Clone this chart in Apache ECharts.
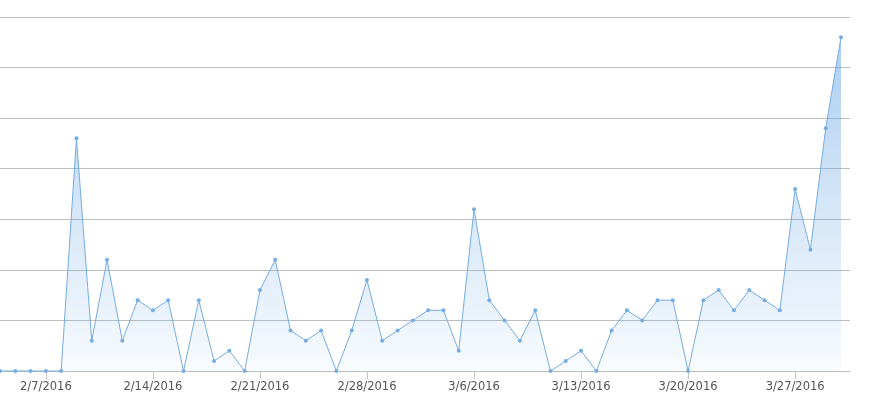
<!DOCTYPE html>
<html>
<head>
<meta charset="utf-8">
<script src="https://cdn.jsdelivr.net/npm/echarts@6/dist/echarts.min.js"></script>
<style>
  html, body { margin: 0; padding: 0; background: #fff; }
  #main { width: 877px; height: 407px; }
</style>
</head>
<body>
<div id="main"></div>
<script>
// daily dates, 2/4/2016 .. 3/30/2016
var dates = [
  "2/4/2016", "2/5/2016", "2/6/2016", "2/7/2016", "2/8/2016", "2/9/2016", "2/10/2016",
  "2/11/2016", "2/12/2016", "2/13/2016", "2/14/2016", "2/15/2016", "2/16/2016", "2/17/2016",
  "2/18/2016", "2/19/2016", "2/20/2016", "2/21/2016", "2/22/2016", "2/23/2016", "2/24/2016",
  "2/25/2016", "2/26/2016", "2/27/2016", "2/28/2016", "2/29/2016", "3/1/2016", "3/2/2016",
  "3/3/2016", "3/4/2016", "3/5/2016", "3/6/2016", "3/7/2016", "3/8/2016", "3/9/2016",
  "3/10/2016", "3/11/2016", "3/12/2016", "3/13/2016", "3/14/2016", "3/15/2016", "3/16/2016",
  "3/17/2016", "3/18/2016", "3/19/2016", "3/20/2016", "3/21/2016", "3/22/2016", "3/23/2016",
  "3/24/2016", "3/25/2016", "3/26/2016", "3/27/2016", "3/28/2016", "3/29/2016", "3/30/2016"
];

var counts = [
  0, 0, 0, 0, 0, 23, 3,
  11, 3, 7, 6, 7, 0, 7,
  1, 2, 0, 8, 11, 4, 3,
  4, 0, 4, 9, 3, 4, 5,
  6, 6, 2, 16, 7, 5, 3,
  6, 0, 1, 2, 0, 4, 6,
  5, 7, 7, 0, 7, 8, 6,
  8, 7, 6, 18, 12, 24, 33
];

// y scale (labels hidden in the picture)
var yMin = 0;
var yMax = 35;
var yStep = 5;

// a label every week, first one on 2/7
var firstLabel = 3;
var labelEvery = 7;

var myChart = echarts.init(document.getElementById("main"));

function weekly(idx) {
    return (idx - firstLabel) % labelEvery === 0;
}

var option = {
    backgroundColor: "#fff",
    animation: false,
    grid: [
        // grid 0 only carries the horizontal lines, which run a bit past the last point
        { left: 0, right: 27, top: 17, bottom: 36 },
        { left: 0, right: 36, top: 17, bottom: 36 }
    ],
    xAxis: [
        { gridIndex: 0, type: "value", min: 0, max: 1, show: false },
        {
            gridIndex: 1,
            type: "category",
            data: dates,
            boundaryGap: false,
            axisLine: { show: false },
            axisTick: {
                show: true,
                interval: weekly,
                length: 8,
                lineStyle: { color: "#c4c4c4" }
            },
            axisLabel: {
                interval: weekly,
                margin: 10,
                color: "#555",
                fontSize: 11.5,
                fontFamily: "DejaVu Sans"
            },
            splitLine: { show: false }
        }
    ],
    yAxis: [
        {
            gridIndex: 0,
            type: "value",
            min: yMin,
            max: yMax,
            interval: yStep,
            axisLine: { show: false },
            axisTick: { show: false },
            axisLabel: { show: false },
            splitLine: { show: true, lineStyle: { color: "#bdbdbd", width: 1 } }
        },
        {
            gridIndex: 1,
            type: "value",
            min: yMin,
            max: yMax,
            interval: yStep,
            show: false
        }
    ],
    series: [
        {
            name: "count",
            type: "line",
            xAxisIndex: 1,
            yAxisIndex: 1,
            data: counts,
            symbol: "circle",
            symbolSize: 4,
            showSymbol: true,
            clip: false,
            itemStyle: { color: "#76ade3" },
            lineStyle: { color: "#76ade3", width: 1 },
            areaStyle: {
                color: new echarts.graphic.LinearGradient(0, 0, 0, 1, [
                    { offset: 0, color: "rgba(110,170,230,0.82)" },
                    { offset: 0.55, color: "rgba(110,170,230,0.38)" },
                    { offset: 0.85, color: "rgba(110,170,230,0.19)" },
                    { offset: 1, color: "rgba(110,170,230,0.06)" }
                ])
            }
        }
    ]
};

myChart.setOption(option);
</script>
</body>
</html>
